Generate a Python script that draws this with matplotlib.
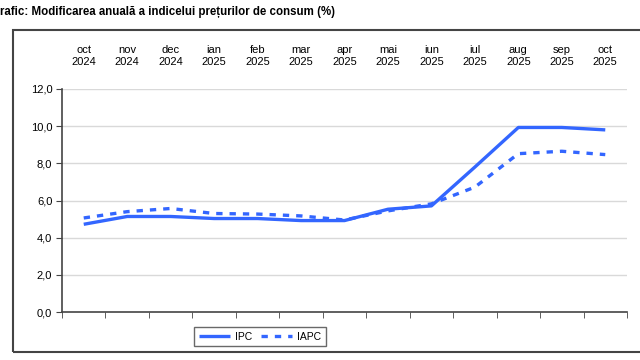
import matplotlib.pyplot as plt
import matplotlib.patches as patches

plt.rcParams['font.family'] = ['Liberation Sans', 'DejaVu Sans']

months = ['oct\n2024', 'nov\n2024', 'dec\n2024', 'ian\n2025', 'feb\n2025', 'mar\n2025',
          'apr\n2025', 'mai\n2025', 'iun\n2025', 'iul\n2025', 'aug\n2025', 'sep\n2025', 'oct\n2025']
ipc = [4.72, 5.14, 5.14, 5.03, 5.03, 4.92, 4.92, 5.53, 5.71, 7.8, 9.93, 9.93, 9.8]
iapc = [5.06, 5.4, 5.57, 5.3, 5.27, 5.17, 4.95, 5.44, 5.82, 6.72, 8.52, 8.65, 8.47]
yticks = [0, 2, 4, 6, 8, 10, 12]

blue = '#3366ff'
dark = '#444444'

fig = plt.figure(figsize=(6.4, 3.6), dpi=100)
ax = fig.add_axes([62/640, 1 - 312/360, (627 - 62)/640, (312 - 89)/360])

x = list(range(len(months)))
ax.plot(x, ipc, color=blue, lw=2.4, label='IPC', solid_capstyle='butt')
ax.plot(x, iapc, color=blue, lw=2.4, label='IAPC', dashes=(1.9, 2.1))

ax.set_xlim(-0.5, len(months) - 0.5)
ax.set_ylim(0, 12)
ax.set_yticks(yticks)
ax.set_yticklabels([f'{v:.1f}'.replace('.', ',') for v in yticks], fontsize=8)
for v in yticks[1:]:
    ax.axhline(v, color='#d9d9d9', lw=1, zorder=0)

ax.set_xticks(x)
ax.set_xticklabels(months, fontsize=8, linespacing=1.35)
ax.set_xticks([i - 0.5 for i in range(len(months) + 1)], minor=True)
ax.tick_params(axis='x', which='major', bottom=False, top=False,
               labelbottom=False, labeltop=True, pad=12)
ax.tick_params(axis='x', which='minor', bottom=True, length=4, color=dark)
ax.tick_params(axis='y', length=4, color=dark, pad=3)

for s in ['top', 'right']:
    ax.spines[s].set_visible(False)
for s in ['left', 'bottom']:
    ax.spines[s].set_color(dark)
    ax.spines[s].set_linewidth(1.2)

leg = ax.legend(loc='upper center', bbox_to_anchor=(260/640, 1 - 327/360),
                bbox_transform=fig.transFigure, ncol=2, fontsize=7.5,
                frameon=True, fancybox=False, edgecolor=dark,
                handlelength=3.0, columnspacing=0.8, borderpad=0.45,
                handletextpad=0.5, borderaxespad=0)
leg.get_frame().set_linewidth(1.0)

frame = patches.Rectangle((13/640, 1 - 352/360), 1.0, (352 - 30)/360,
                          transform=fig.transFigure, fill=False,
                          edgecolor=dark, lw=1.5, clip_on=False)
fig.patches.append(frame)

fig.text(0, 1 - 12/360, 'rafic: Modificarea anuală a indicelui prețurilor de consum (%)',
         fontsize=8.3, fontweight='bold', va='center', ha='left')

fig.savefig('out.png', dpi=100)
